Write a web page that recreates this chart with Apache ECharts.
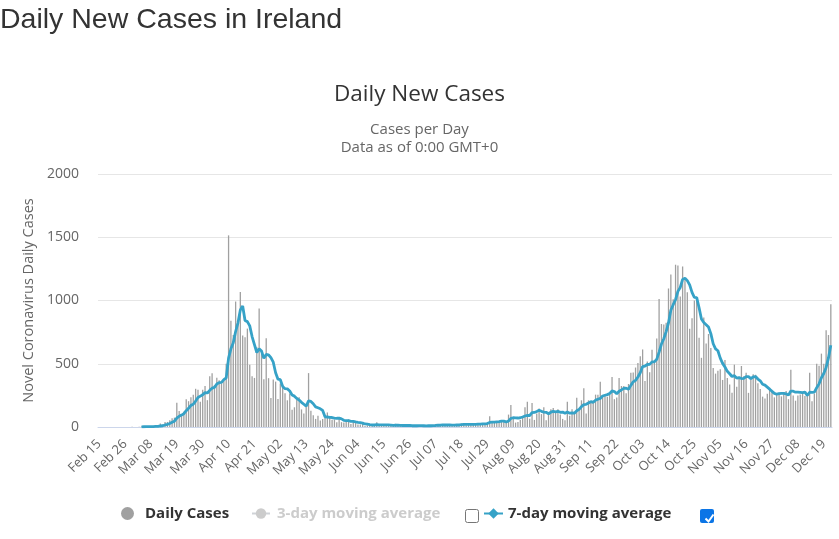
<!DOCTYPE html>
<html><head><meta charset="utf-8">
<script src="https://cdn.jsdelivr.net/npm/echarts@6.0.0/dist/echarts.min.js"></script>
<style>html,body{margin:0;padding:0;background:#fff;}#c{width:839px;height:539px;}</style>
</head><body><div id="c"></div>
<script>
// month label spans (category axis labels)
const monthSpans = [['Feb',15,29],['Mar',1,31],['Apr',1,30],['May',1,31],['Jun',1,30],['Jul',1,31],['Aug',1,31],['Sep',1,30],['Oct',1,31],['Nov',1,30],['Dec',1,22]];
const categories = [];
monthSpans.forEach(function(s){ for (let d = s[1]; d <= s[2]; d++) categories.push(s[0] + ' ' + (d < 10 ? '0' + d : d)); });

// Daily new cases
const dailyFeb = [0,0,0,0,0,0,0,0,0,0,0,0,0,0,1];
const dailyMar = [0,0,1,4,7,5,1,2,3,10,9,27,20,39,40,54,69,74,191,126,102,121,219,204,235,255,302,294,200,295,325];
const dailyApr = [212,402,424,331,390,370,345,365,500,1515,839,727,992,832,1068,724,709,778,493,401,388,631,936,577,377,701,386,229,376,359];
const dailyMay = [221,343,330,266,211,265,137,156,219,236,139,107,159,426,129,92,64,88,51,64,76,115,76,57,59,37,68,38,35,53,61];
const dailyJun = [24,39,31,19,20,24,8,13,11,19,16,37,10,10,14,11,12,13,13,25,8,10,5,7,17,20,6,11,7,11];
const dailyJul = [6,11,8,15,10,13,24,19,7,23,17,10,9,21,18,16,22,28,25,14,20,17,20,25,32,26,28,20,38,85,38];
const dailyAug = [34,37,43,45,40,42,98,174,68,35,40,55,83,156,200,66,190,56,107,147,102,156,53,113,140,150,118,140,99,64,53];
const dailySep = [200,89,141,120,231,138,211,307,107,211,205,189,256,255,357,240,253,240,253,396,220,234,387,324,324,266,340,429,430,470];
const dailyOct = [506,560,613,364,518,432,611,506,700,1012,814,811,824,1095,1205,1010,1283,1276,1031,1269,1167,1066,777,859,1000,1025,705,547,866,661,735];
const dailyNov = [625,467,422,444,456,372,529,387,335,270,493,318,395,482,401,429,270,379,417,413,345,300,240,226,262,309,290,234,252,270];
const dailyDec = [242,264,285,220,453,250,208,249,256,271,246,264,429,203,264,500,484,580,500,764,727,970];

// 7-day moving average
const avgFeb = [null,null,null,null,null,null,null,null,null,null,null,null,null,null,null];
const avgMar = [null,null,null,1,2,3,3,3,3,5,5,8,10,16,21,28,37,46,70,85,94,105,129,148,171,180,205,233,244,255,272];
const avgApr = [269,290,307,313,340,351,353,375,389,545,618,666,755,824,925,957,842,833,799,715,652,589,619,601,543,573,571,548,512,429];
const avgMay = [378,374,321,303,301,285,253,244,226,213,195,180,165,206,202,184,159,152,144,131,81,79,76,75,71,69,70,64,53,50,50];
const avgJun = [45,45,40,37,35,31,24,22,18,16,16,18,16,17,17,17,16,15,12,14,14,13,12,12,12,13,10,11,10,11];
const avgJul = [11,10,9,10,10,11,12,14,14,16,16,16,16,15,15,16,16,18,20,21,20,20,21,21,22,22,24,24,27,36,38];
const avgAug = [38,40,42,46,46,40,48,68,73,72,71,73,79,87,91,91,113,115,123,132,124,118,116,105,117,123,119,124,116,118,109];
const avgSep = [118,109,112,109,128,139,161,177,179,189,201,195,212,219,226,245,251,256,265,285,280,262,283,293,305,307,299,329,357,369];
const avgOct = [395,429,478,482,494,495,515,515,535,592,656,698,754,823,923,967,1006,1072,1103,1167,1177,1157,1124,1064,1024,1023,943,854,826,809,791];
const avgNov = [738,658,618,603,544,503,474,440,421,399,406,386,390,383,385,398,398,382,396,399,379,365,338,331,315,299,282,266,259,263];
const avgDec = [266,266,262,252,284,283,275,276,274,272,276,249,275,274,276,311,341,389,423,471,546,646];

const yTicks = [0, 500, 1000, 1500, 2000];

const daily = [].concat(dailyFeb,dailyMar,dailyApr,dailyMay,dailyJun,dailyJul,dailyAug,dailySep,dailyOct,dailyNov,dailyDec);
const avg7 = [].concat(avgFeb,avgMar,avgApr,avgMay,avgJun,avgJul,avgAug,avgSep,avgOct,avgNov,avgDec);

const lineColor = '#36a2c7';
const chart = echarts.init(document.getElementById('c'), null, {renderer:'canvas'});
chart.setOption({
  animation:false,
  title:[
    {text:'Daily New Cases in Ireland', left:0, top:6, padding:0,
     textStyle:{fontFamily:'Liberation Sans', fontSize:28.5, fontWeight:'normal', color:'#333'}},
    {text:'Daily New Cases', left:'center', top:83, padding:0,
     textStyle:{fontFamily:'Open Sans', fontSize:22.5, fontWeight:'normal', color:'#333'}},
    {text:'Cases per Day', left:'center', top:122, padding:0,
     textStyle:{fontFamily:'Open Sans', fontSize:15, fontWeight:'normal', color:'#666'}},
    {text:'Data as of 0:00 GMT+0', left:'center', top:140, padding:0,
     textStyle:{fontFamily:'Open Sans', fontSize:15, fontWeight:'normal', color:'#666'}}
  ],
  grid:{left:98, right:7, top:174, bottom:112},
  xAxis:{type:'category', data:categories, boundaryGap:true,
    axisLine:{lineStyle:{color:'#ccd6eb'}}, axisTick:{show:false},
    axisLabel:{interval:10, rotate:45, color:'#666', fontFamily:'Open Sans', fontSize:13, margin:15}},
  yAxis:{type:'value', min:yTicks[0], max:yTicks[yTicks.length-1], interval:500,
    name:'Novel Coronavirus Daily Cases', nameLocation:'middle', nameGap:60,
    nameTextStyle:{color:'#666', fontFamily:'Open Sans', fontSize:14.5},
    axisLine:{show:false}, axisTick:{show:false},
    axisLabel:{color:'#666', fontFamily:'Open Sans', fontSize:14, margin:19, formatter:function(v){return String(v);}},
    splitLine:{lineStyle:{color:'#e6e6e6'}}},
  legend:[
    {data:['Daily Cases'], left:121, top:506, padding:0, itemWidth:13, itemHeight:13, icon:'circle',
     textStyle:{fontFamily:'Open Sans', fontWeight:'bold', fontSize:15, color:'#333', padding:[0,0,0,6]}},
    {data:['3-day moving average'], left:251, top:506, padding:0, itemWidth:18, itemHeight:13,
     inactiveColor:'#cccccc', selected:{'3-day moving average':false},
     textStyle:{fontFamily:'Open Sans', fontWeight:'bold', fontSize:15, color:'#333', padding:[0,0,0,2]}},
    {data:['7-day moving average'], left:483, top:506, padding:0, itemWidth:19, itemHeight:13,
     textStyle:{fontFamily:'Open Sans', fontWeight:'bold', fontSize:15, color:'#333'}}
  ],
  graphic:[
    {type:'rect', left:465, top:509, shape:{width:13, height:13, r:2}, style:{fill:'#fff', stroke:'#767676', lineWidth:1}},
    {type:'rect', left:700, top:509, shape:{width:14, height:14, r:2}, style:{fill:'#0b75e6'}},
    {type:'polyline', left:703, top:512, shape:{points:[[0,4],[3,7],[8,0]]}, style:{stroke:'#fff', lineWidth:2, fill:null}}
  ],
  series:[
    {name:'Daily Cases', type:'bar', data:daily, barWidth:'55%', itemStyle:{color:'#a0a0a0'}},
    {name:'3-day moving average', type:'line', data:[], symbol:'circle', symbolSize:7, itemStyle:{color:'#bbbbbb'}},
    {name:'7-day moving average', type:'line', data:avg7, symbol:'diamond', symbolSize:9, showSymbol:false,
     itemStyle:{color:lineColor}, lineStyle:{color:lineColor, width:2.8}}
  ]
});
</script></body></html>
